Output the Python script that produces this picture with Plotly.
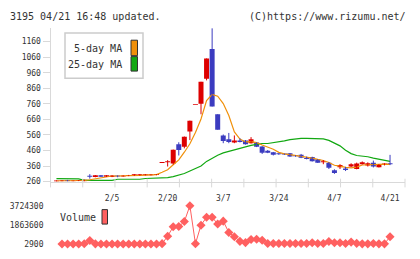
import plotly.graph_objects as go

# ---- data ----
# candle index j: 0..60 (j=0 is the day before the first volume point)
day_idx = list(range(0, 61))
opens = [261, 262, 270, 262, 264, 262, 294, 289, 301, 291, 290,
         294, 293, 296, 301, 299, 301, 301, 303, 380, 385,
         376, 500, 484, 583, 752, 760, 922, 1112, 693, 557,
         532, 511, 525, 525, 507, 511, 486, 459, 449, 440,
         438, 442, 426, 432, 411, 418, 403, 385, 382, 333,
         353, 345, 357, 341, 372, 364, 382, 353, 366, 374]
highs = [268, 269, 271, 267, 270, 273, 308, 302, 302, 302, 301,
         300, 300, 303, 309, 309, 308, 307, 308, 380, 398,
         466, 513, 550, 652, 752, 902, 1052, 1247, 693, 563,
         573, 557, 538, 527, 546, 513, 488, 463, 451, 442,
         440, 444, 430, 438, 421, 420, 405, 399, 386, 339,
         372, 355, 378, 382, 390, 384, 395, 372, 378, 432]
lows = [260, 261, 261, 261, 263, 261, 279, 288, 290, 290, 289,
        288, 292, 295, 297, 298, 300, 300, 301, 380, 357,
        370, 428, 474, 527, 752, 693, 911, 743, 594, 507,
        507, 507, 512, 498, 505, 482, 438, 443, 428, 432,
        432, 419, 420, 411, 403, 389, 380, 372, 341, 310,
        341, 328, 353, 339, 370, 357, 351, 351, 364, 366]
closes = [267, 268, 262, 266, 269, 272, 292, 301, 291, 301, 300,
          293, 299, 302, 302, 308, 307, 306, 307, 380, 388,
          465, 463, 548, 652, 752, 902, 1052, 743, 594, 521,
          515, 525, 515, 500, 532, 484, 445, 445, 432, 436,
          434, 421, 423, 413, 405, 391, 382, 387, 349, 316,
          366, 335, 372, 376, 384, 378, 357, 370, 376, 372]
ma5 = [264, 265, 265, 265, 265, 267, 272, 279, 284, 291, 296,
       296, 296, 297, 298, 300, 302, 304, 305, 320, 336,
       368, 400, 449, 503, 576, 663, 781, 820, 809, 762,
       685, 580, 534, 515, 517, 511, 495, 481, 468, 448,
       438, 434, 429, 425, 419, 411, 403, 396, 383, 365,
       360, 351, 348, 353, 367, 369, 373, 373, 373, 371]
ma25 = [279, 279, 279, 279, 278, 268, 268, 268, 268, 268, 268,
        275, 275, 275, 275, 275, 280, 281, 282, 283, 286,
        292, 302, 312, 328, 342, 360, 390, 412, 430, 445,
        455, 465, 474, 485, 493, 500, 505, 505, 510, 515,
        522, 530, 536, 538, 538, 538, 538, 535, 525, 510,
        490, 462, 440, 428, 424, 420, 411, 405, 398, 390]
vol_idx = list(range(1, 61))
volume = [40000, 40000, 40000, 40000, 60000, 375000, 50000, 40000, 40000, 40000,
          40000, 40000, 40000, 40000, 40000, 40000, 40000, 40000, 70000, 790000,
          1700000, 1720000, 2200000, 3720000, 65000, 1850000, 2620000, 2620000, 1960000, 2240000,
          1150000, 740000, 290000, 170000, 470000, 490000, 400000, 90000, 90000, 90000,
          90000, 90000, 90000, 90000, 90000, 160000, 90000, 90000, 280000, 160000,
          160000, 90000, 220000, 100000, 50000, 50000, 90000, 50000, 50000, 740000]
date_ticks = [10, 20, 30, 40, 50, 60]
date_labels = ["2/5", "2/20", "3/7", "3/24", "4/7", "4/21"]
price_ticks = [260, 360, 460, 560, 660, 760, 860, 960, 1060, 1160]
vol_ticks = [2900, 1863600, 3724300]

# ---- styling ----
W, H = 420, 259
FONT = "DejaVu Sans Mono"
RED, BLUE = "#dd0000", "#3c3cc0"
ORANGE, GREEN = "#f0900a", "#12a812"
VCOL = "#ff6060"
AX = "#d9d9d9"
TXT = "#333333"
xd = [50.5 / W, 405 / W]
xr = [-1.07, 62.69]

def py(px):
    return 1 - px / H

fig = go.Figure()

# moving averages (under candles)
fig.add_trace(go.Scatter(x=day_idx, y=ma25, mode="lines", line=dict(color=GREEN, width=1.2),
                         xaxis="x", yaxis="y", hoverinfo="skip"))
fig.add_trace(go.Scatter(x=day_idx, y=ma5, mode="lines", line=dict(color=ORANGE, width=1.2),
                         xaxis="x", yaxis="y", hoverinfo="skip"))

# candles
for up, col in ((True, RED), (False, BLUE)):
    sel = [k for k in range(len(day_idx)) if (closes[k] >= opens[k]) == up]
    wx, wy = [], []
    for k in sel:
        wx += [day_idx[k], day_idx[k], None]
        wy += [lows[k], highs[k], None]
    fig.add_trace(go.Scatter(x=wx, y=wy, mode="lines", line=dict(color=col, width=1),
                             xaxis="x", yaxis="y", hoverinfo="skip"))
    fig.add_trace(go.Bar(x=[day_idx[k] for k in sel],
                         base=[min(opens[k], closes[k]) for k in sel],
                         y=[max(abs(closes[k] - opens[k]), 6) for k in sel],
                         width=0.9, marker=dict(color=col, line=dict(width=0)),
                         xaxis="x", yaxis="y", hoverinfo="skip"))

# volume
fig.add_trace(go.Scatter(x=vol_idx, y=volume, mode="lines+markers",
                         line=dict(color=VCOL, width=1),
                         marker=dict(symbol="diamond", size=7, color=VCOL),
                         cliponaxis=False, xaxis="x2", yaxis="y2", hoverinfo="skip"))

shapes = []
# x tick marks (evenly spaced across plot width)
for k in range(12):
    xp = xd[0] + k / 11 * (xd[1] - xd[0])
    shapes.append(dict(type="line", xref="paper", yref="paper", x0=xp, x1=xp,
                       y0=py(190), y1=py(181), line=dict(color=AX, width=1)))
# price legend box + swatches
shapes.append(dict(type="rect", xref="paper", yref="paper", x0=65 / W, x1=143 / W,
                   y0=py(77), y1=py(30), line=dict(color="#cccccc", width=1.5), fillcolor="white"))
shapes.append(dict(type="rect", xref="paper", yref="paper", x0=131 / W, x1=137.5 / W,
                   y0=py(53.5), y1=py(37.5), line=dict(color="#333333", width=1), fillcolor=ORANGE))
shapes.append(dict(type="rect", xref="paper", yref="paper", x0=131 / W, x1=137.5 / W,
                   y0=py(69.5), y1=py(54.5), line=dict(color="#333333", width=1), fillcolor=GREEN))
# volume legend swatch
shapes.append(dict(type="rect", xref="paper", yref="paper", x0=102 / W, x1=107.5 / W,
                   y0=py(228), y1=py(213), line=dict(color="#333333", width=1), fillcolor=VCOL))

ann = [
    dict(text="3195 04/21 16:48 updated.", x=8 / W, y=py(13), xanchor="left", yanchor="middle"),
    dict(text="(C)https://www.rizumu.net/", x=408 / W, y=py(13), xanchor="right", yanchor="middle"),
    dict(text="5-day MA", x=124 / W, y=py(46), xanchor="right", yanchor="middle"),
    dict(text="25-day MA", x=124 / W, y=py(63), xanchor="right", yanchor="middle"),
    dict(text="Volume", x=58 / W, y=py(221), xanchor="left", yanchor="middle"),
]
for a in ann:
    a.update(xref="paper", yref="paper", showarrow=False,
             font=dict(family=FONT, size=10, color=TXT))

tickfont = dict(family=FONT, size=8, color=TXT)
fig.update_layout(
    width=W, height=H, autosize=False,
    margin=dict(l=0, r=0, t=0, b=0),
    paper_bgcolor="white", plot_bgcolor="white",
    showlegend=False, barmode="overlay",
    shapes=shapes, annotations=ann,
    xaxis=dict(domain=xd, range=xr, tickvals=date_ticks, ticktext=date_labels,
               showline=True, linecolor=AX, linewidth=1, ticks="", showgrid=False,
               zeroline=False, tickfont=tickfont, ticklabelstandoff=9, anchor="y"),
    yaxis=dict(domain=[py(184), py(25)], range=[260, 1247], tickvals=price_ticks,
               ticktext=[str(v) for v in price_ticks],
               showline=True, linecolor=AX, linewidth=1, ticks="outside", ticklen=7,
               tickcolor=AX, showgrid=False, zeroline=False, tickfont=tickfont, anchor="x"),
    xaxis2=dict(domain=xd, range=xr, visible=False, anchor="y2"),
    yaxis2=dict(domain=[py(249), py(209)], range=[2900, 3724300], tickvals=vol_ticks,
                ticktext=[str(v) for v in vol_ticks], showline=False, showgrid=False,
                zeroline=False, ticks="", ticklabelstandoff=6, tickfont=tickfont, anchor="x2"),
)

fig.write_html("out.html", config={"displayModeBar": False, "staticPlot": True},
               post_script="document.body.style.margin='0';")
